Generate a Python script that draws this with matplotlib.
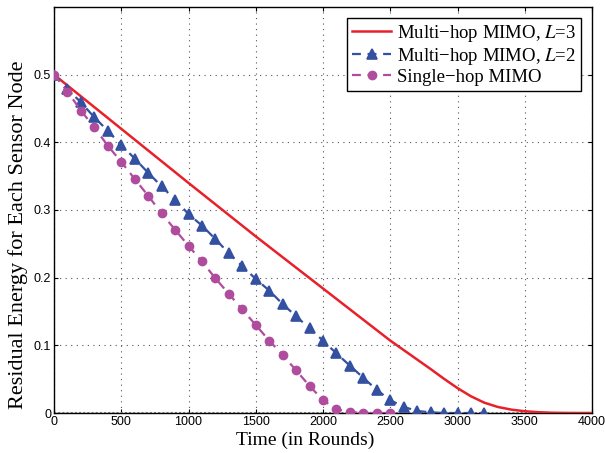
import matplotlib
matplotlib.use("Agg")
import matplotlib.pyplot as plt
import numpy as np

# Data
rounds_markers = list(range(0, 3300, 100))
multi_l2 = [0.500, 0.479, 0.459, 0.437, 0.417, 0.396, 0.376, 0.355, 0.335, 0.315,
            0.294, 0.277, 0.257, 0.236, 0.217, 0.198, 0.181, 0.161, 0.143, 0.125,
            0.107, 0.088, 0.070, 0.052, 0.034, 0.019, 0.009, 0.003, 0.001, 0.0,
            0.0, 0.0, 0.0]
single_rounds = list(range(0, 2600, 100))
single_hop = [0.500, 0.475, 0.447, 0.422, 0.395, 0.371, 0.346, 0.321, 0.295, 0.271,
              0.247, 0.224, 0.199, 0.176, 0.153, 0.130, 0.107, 0.086, 0.063, 0.040,
              0.019, 0.0055, 0.0015, 0.0, 0.0, 0.0]
red_rounds = [0, 500, 1000, 1500, 2000, 2500, 2600, 2700, 2800, 2900, 3000, 3100,
              3200, 3300, 3400, 3500, 3600, 3700, 3800, 3900, 4000]
multi_l3 = [0.500, 0.420, 0.340, 0.261, 0.184, 0.107, 0.093, 0.079, 0.065, 0.0505,
            0.0368, 0.0247, 0.0152, 0.0089, 0.0050, 0.0026, 0.0012, 0.0004, 0.0001,
            0.0, 0.0]

labels = ["Multi\u2212hop MIMO, $L$=3", "Multi\u2212hop MIMO, $L$=2", "Single\u2212hop MIMO"]
xticks = [0, 500, 1000, 1500, 2000, 2500, 3000, 3500, 4000]
yticks = [0, 0.1, 0.2, 0.3, 0.4, 0.5]
ytick_labels = ["0", "0.1", "0.2", "0.3", "0.4", "0.5"]

plt.rcParams['mathtext.fontset'] = 'stix'

fig = plt.figure(figsize=(6.05, 4.53), dpi=100)
ax = fig.add_axes([54/605, 1-413/453, 538/605, (413-7)/453])

red = '#E8202A'
blue = '#3450A0'
mag = '#B04C9E'

ax.plot(red_rounds, multi_l3, color=red, lw=1.8, label=labels[0], zorder=3)
ax.plot(rounds_markers, multi_l2, color=blue, lw=1.6, ls=(0, (4, 3)), marker='^',
        ms=7.5, mfc=blue, mec=blue, mew=1.2, label=labels[1], zorder=4)
ax.plot(single_rounds, single_hop, color=mag, lw=1.6, ls=(0, (4, 3)), marker='o',
        ms=6, mfc=mag, mec=mag, label=labels[2], zorder=5)

ax.set_xlim(0, 4000)
ax.set_ylim(0, 0.6)
ax.set_xticks(xticks)
ax.set_yticks(yticks)
ax.set_yticklabels(ytick_labels)
ax.tick_params(direction='in', length=3, labelsize=9, top=True, right=True, pad=2)
for lab in ax.get_xticklabels() + ax.get_yticklabels():
    lab.set_fontfamily('Liberation Sans')
ax.grid(True, ls=(0, (1, 4)), color='#555555', lw=0.8)
ax.axhline(0, color='#888888', lw=1.5, ls=(0, (1, 1)), zorder=2)
for s in ax.spines.values():
    s.set_linewidth(1.0)

ax.set_xlabel("Time (in Rounds)", fontfamily='Liberation Serif', fontsize=14)
ax.xaxis.set_label_coords(0.467, -0.045, transform=ax.transAxes)
ax.xaxis.label.set_va('top')
ax.set_ylabel("Residual Energy for Each Sensor Node", fontfamily='Liberation Serif',
              fontsize=16)
ax.yaxis.label.set_va('center')
ax.yaxis.set_label_coords(-0.067, 0.438, transform=ax.transAxes)

leg = ax.legend(loc='upper right', prop={'family': 'Liberation Serif', 'size': 13.5},
                fancybox=False, edgecolor='black', framealpha=1, borderpad=0.25,
                labelspacing=0.1, handlelength=2.1, handletextpad=0.3,
                borderaxespad=0.6)
leg.get_frame().set_linewidth(1.0)

fig.savefig("out.png", dpi=100)
